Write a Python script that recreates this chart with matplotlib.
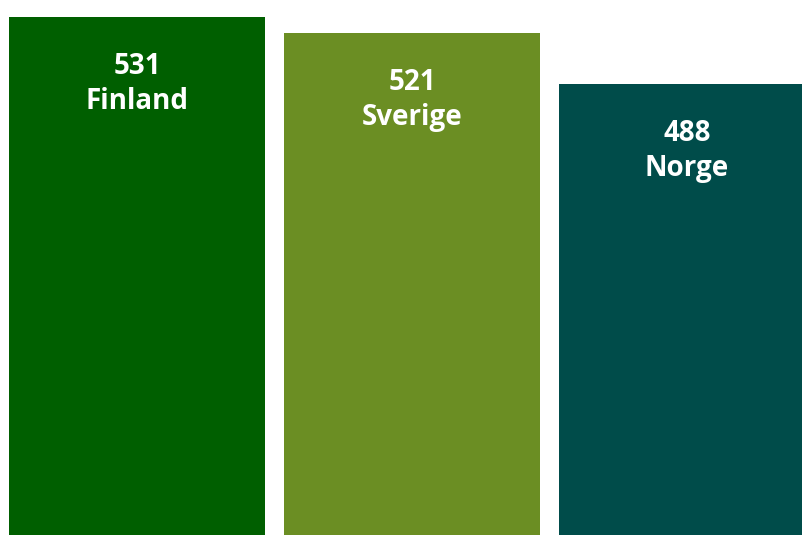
import matplotlib
matplotlib.use("Agg")
import matplotlib.pyplot as plt

countries = ["Finland", "Sverige", "Norge"]
scores = [531, 521, 488]
colors = ["#005f00", "#6b8e23", "#004c4a"]

fig = plt.figure(figsize=(8.03, 5.35), dpi=100)
ax = fig.add_axes([0, 0, 1, 1])
xs = range(len(countries))
ax.bar(xs, scores, width=0.931, color=colors)
ax.set_xlim(-0.498, 2.422)
ax.set_ylim(200, 542)
ax.axis("off")

# value on the first line, country name underneath, near the top of each bar
for x, v, name in zip(xs, scores, countries):
    for txt, dy in [(str(v), -57), (name, -92)]:
        ax.annotate(txt, (x, v), xytext=(0, dy), textcoords="offset pixels",
                    ha="center", va="baseline", color="white",
                    fontsize=20, fontweight="bold", family="Open Sans")

fig.savefig("out.png", dpi=100)
